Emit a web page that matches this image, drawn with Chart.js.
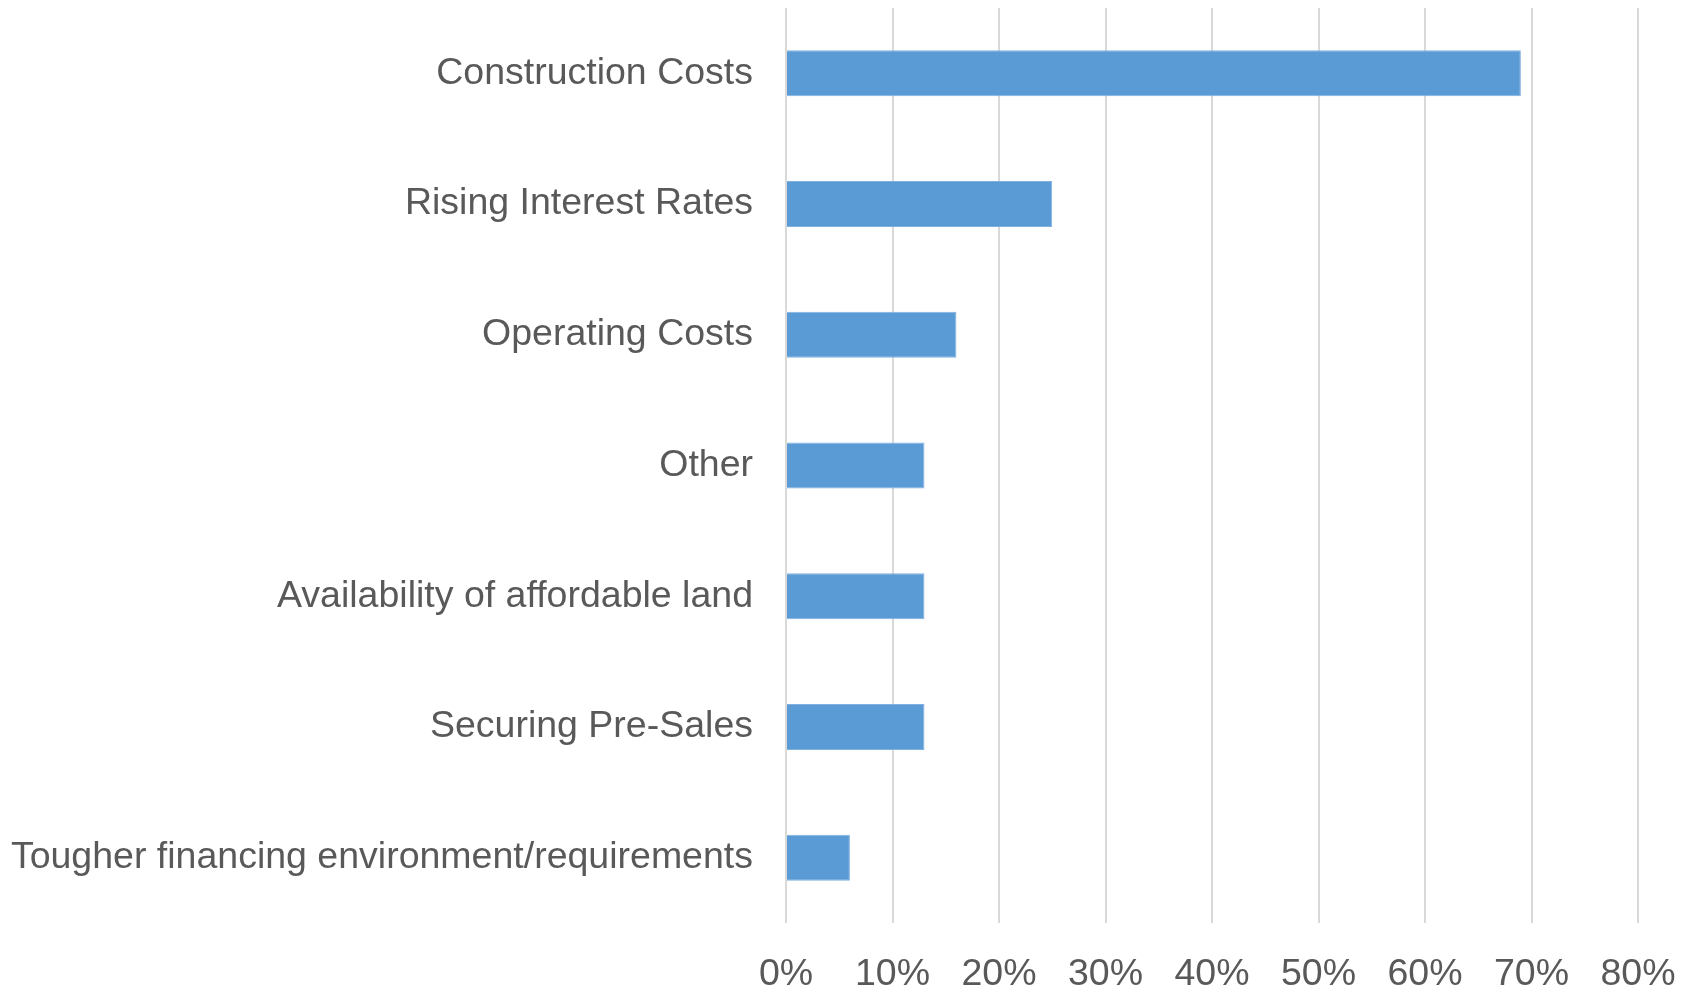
<!DOCTYPE html>
<html>
<head>
<meta charset="utf-8">
<script src="https://cdn.jsdelivr.net/npm/chart.js@4/dist/chart.umd.min.js"></script>
<style>
  body { margin: 0; background: #fff; }
</style>
</head>
<body>
<canvas id="chart" width="1694" height="986"></canvas>
<script>
const categories = [
  "Construction Costs",
  "Rising Interest Rates",
  "Operating Costs",
  "Other",
  "Availability of affordable land",
  "Securing Pre-Sales",
  "Tougher financing environment/requirements",
];
const shares = [69, 25, 16, 13, 13, 13, 6];
const axisMax = 80;

const textColor = "#595959";
const font = { family: "'Liberation Sans', Arial, sans-serif", size: 37.5 };

const ctx = document.getElementById("chart");
new Chart(ctx, {
  type: "bar",
  data: {
    labels: categories,
    datasets: [
      {
        data: shares,
        backgroundColor: "#5b9bd5",
        borderColor: "#7fb0df",
        borderWidth: 1,
        categoryPercentage: 1,
        barPercentage: 0.352,
      },
    ],
  },
  options: {
    indexAxis: "y",
    responsive: false,
    animation: false,
    layout: { padding: { top: 8, right: 56, left: 0, bottom: 0 } },
    plugins: {
      legend: { display: false },
      tooltip: { enabled: false },
    },
    scales: {
      x: {
        min: 0,
        max: axisMax,
        afterFit: (scale) => {
          scale.height = 63;
          scale.paddingLeft = 0;
          scale.paddingRight = 0;
        },
        grid: { color: "#d9d9d9", lineWidth: 2, drawTicks: false },
        border: { display: false },
        ticks: {
          stepSize: 10,
          autoSkip: false,
          maxRotation: 0,
          padding: 29,
          color: textColor,
          font: font,
          callback: (v) => v + "%",
        },
      },
      y: {
        afterFit: (scale) => {
          scale.width = 786;
          scale.paddingTop = 0;
          scale.paddingBottom = 0;
        },
        grid: { display: false, drawTicks: false },
        border: { display: false },
        ticks: {
          padding: 33,
          color: textColor,
          font: font,
        },
      },
    },
  },
});
</script>
</body>
</html>
